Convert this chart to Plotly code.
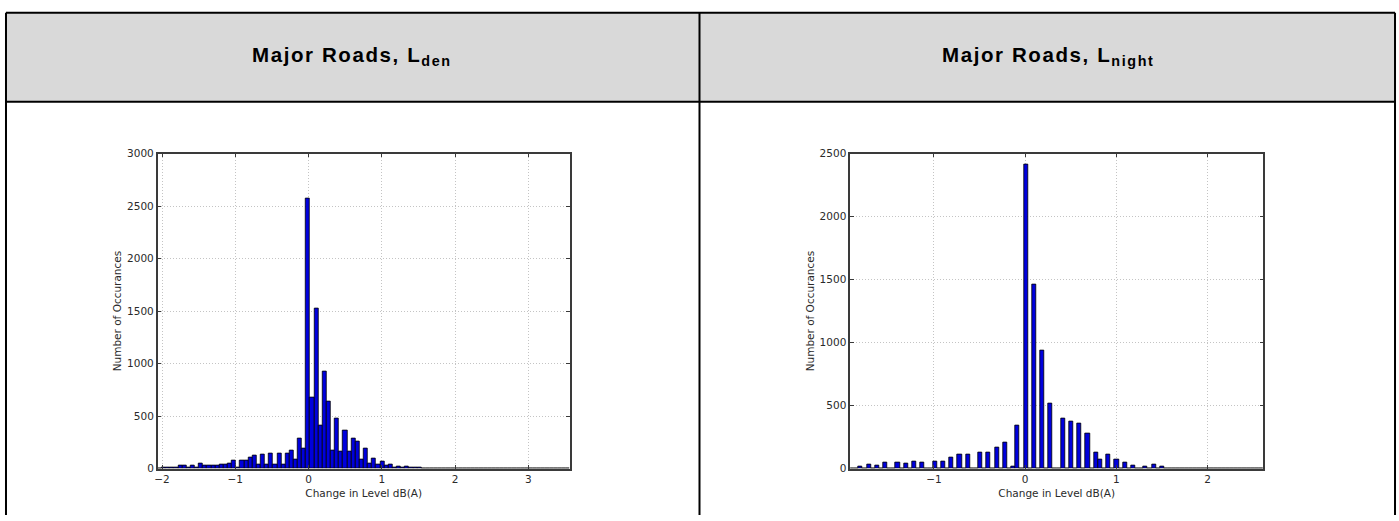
import plotly.graph_objects as go

W, H = 1399, 521

# ---------------- data ----------------
panel_titles = ["Major Roads, L<sub>den</sub>", "Major Roads, L<sub>night</sub>"]
x_title = "Change in Level dB(A)"
y_title = "Number of Occurances"

# Lden histogram: 100 bins
lden_bin_start = -2.06
lden_bin_width = 0.05627
lden_counts = [
    5, 8, 10, 15, 15, 25, 25, 15, 25, 10,
    45, 30, 30, 30, 30, 37, 37, 50, 75, 15,
    75, 75, 110, 120, 40, 130, 40, 145, 40, 140,
    40, 140, 170, 85, 290, 195, 2570, 680, 1520, 410,
    920, 640, 170, 475, 160, 360, 165, 290, 255, 90,
    195, 45, 95, 40, 70, 25, 35, 15, 20, 10,
    22, 12, 12, 6, 4, 0, 5, 4, 0, 4,
    5, 5, 4, 0, 4, 4, 0, 4, 4, 0,
    3, 4, 4, 0, 4, 4, 0, 3, 3, 0,
    0, 0, 0, 0, 0, 0, 0, 3, 3, 0,
]
lden_xticks = [-2, -1, 0, 1, 2, 3]
lden_yticks = [0, 500, 1000, 1500, 2000, 2500, 3000]

# Lnight histogram: 100 bins
lnight_bin_start = -1.918
lnight_bin_width = 0.04528
lnight_counts = [
    3, 0, 20, 0, 30, 0, 22, 0, 50, 0,
    0, 50, 0, 38, 0, 60, 0, 50, 0, 0,
    55, 0, 60, 0, 85, 0, 110, 0, 115, 0,
    0, 125, 0, 130, 0, 165, 0, 205, 0, 15,
    345, 0, 2410, 0, 1460, 0, 940, 0, 520, 0,
    0, 395, 0, 370, 0, 355, 0, 280, 0, 125,
    70, 0, 115, 0, 75, 0, 50, 0, 28, 0,
    0, 20, 0, 30, 0, 15, 0, 4, 0, 4,
    0, 4, 0, 4, 0, 0, 4, 0, 4, 0,
    4, 0, 4, 0, 0, 0, 0, 0, 0, 0,
]
lnight_xticks = [-1, 0, 1, 2]
lnight_yticks = [0, 500, 1000, 1500, 2000, 2500]

# ---------------- figure ----------------
def px_x(p):
    return p / W

def px_y(p):
    return 1 - p / H

fig = go.Figure()

BAR_FILL = "#0000dd"
BAR_EDGE = "#000000"

def add_hist(start, width, counts, xa, ya):
    centers = [start + (i + 0.5) * width for i in range(len(counts))]
    fig.add_trace(go.Bar(
        x=centers, y=counts, width=width,
        marker=dict(color=BAR_FILL, line=dict(color=BAR_EDGE, width=0.8)),
        xaxis=xa, yaxis=ya, showlegend=False, hoverinfo="x+y",
    ))

add_hist(lden_bin_start, lden_bin_width, lden_counts, "x", "y")
add_hist(lnight_bin_start, lnight_bin_width, lnight_counts, "x2", "y2")

TICK_FONT = dict(family="DejaVu Sans", size=10.5, color="#2a2a2a")
TITLE_FONT = dict(family="DejaVu Sans", size=10.5, color="#2a2a2a")

y_bottom = px_y(473.5)
y_top = px_y(151)

common = dict(
    showline=True, linecolor="#3a3a3a", linewidth=1.5, mirror="ticks",
    ticks="inside", ticklen=4, tickcolor="#3a3a3a",
    showgrid=True, gridcolor="#c4c4c4", griddash="1px,2px", gridwidth=1,
    zeroline=False, tickfont=TICK_FONT,
)

def minus(vals):
    return [str(v).replace("-", "\u2212") for v in vals]

fig.update_layout(
    width=W, height=H,
    margin=dict(l=0, r=0, t=0, b=0),
    paper_bgcolor="white", plot_bgcolor="white",
    bargap=0,
    xaxis=dict(common, domain=[px_x(155), px_x(568)], anchor="y",
               range=[lden_bin_start, lden_bin_start + 100 * lden_bin_width],
               tickvals=lden_xticks, ticktext=minus(lden_xticks),
               title=dict(text=x_title, font=TITLE_FONT, standoff=6)),
    yaxis=dict(common, domain=[y_bottom, y_top], anchor="x",
               range=[0, 3000], tickvals=lden_yticks,
               title=dict(text=y_title, font=TITLE_FONT, standoff=3)),
    xaxis2=dict(common, domain=[px_x(849), px_x(1263)], anchor="y2",
                range=[lnight_bin_start, lnight_bin_start + 100 * lnight_bin_width],
                tickvals=lnight_xticks, ticktext=minus(lnight_xticks),
                title=dict(text=x_title, font=TITLE_FONT, standoff=6)),
    yaxis2=dict(common, domain=[y_bottom, y_top], anchor="x2",
                range=[0, 2500], tickvals=lnight_yticks,
                title=dict(text=y_title, font=TITLE_FONT, standoff=3)),
)

# ---------------- table frame ----------------
shapes = []
shapes.append(dict(type="rect", xref="paper", yref="paper",
                   x0=px_x(3), x1=px_x(1395), y0=px_y(98), y1=px_y(7),
                   fillcolor="#d9d9d9", line=dict(width=0), layer="below"))
LINE = dict(color="black", width=2)
for (x0, y0, x1, y1) in [
    (3, 7, 1395, 7),      # top
    (3, 98, 1395, 98),    # header bottom
    (3, 7, 3, 521),       # left
    (1395, 7, 1395, 521), # right
    (698, 7, 698, 521),   # divider
]:
    shapes.append(dict(type="line", xref="paper", yref="paper",
                       x0=px_x(x0), x1=px_x(x1), y0=px_y(y0), y1=px_y(y1), line=LINE))
fig.update_layout(shapes=shapes)

for title, cx in zip(panel_titles, [350, 1047]):
    fig.add_annotation(text="<span style='letter-spacing:1.6px'><b>" + title + "</b></span>",
                       xref="paper", yref="paper",
                       x=px_x(cx), y=px_y(51), showarrow=False,
                       xanchor="center", yanchor="middle",
                       font=dict(family="Liberation Sans", size=20.5, color="black"))

fig.write_html("out.html")
